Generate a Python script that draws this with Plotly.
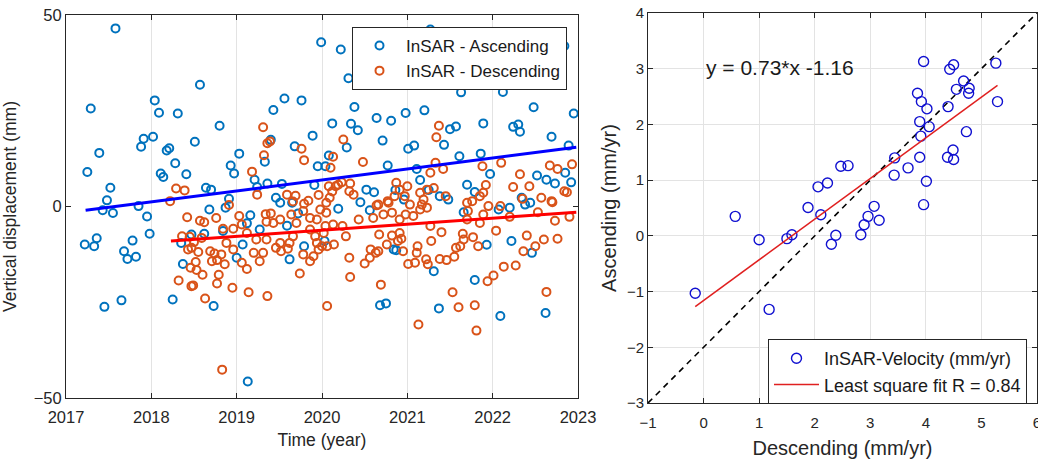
import plotly.graph_objects as go

# ---------------- Left panel data: vertical displacement time series ----------------
asc_t = [2017.25, 2017.29, 2017.39, 2017.52, 2017.48, 2017.43, 2017.55, 2017.58, 2017.85, 2017.95,
         2017.22, 2017.33, 2017.36, 2017.45, 2017.65, 2017.68, 2017.72, 2017.78, 2017.82, 2017.98,
         2017.91, 2017.88, 2018.02, 2018.04, 2018.09, 2018.11, 2018.14, 2018.18, 2018.21, 2018.28,
         2018.31, 2018.41, 2018.51, 2018.57, 2018.64, 2018.70, 2018.68, 2018.80, 2018.87, 2018.91,
         2018.93, 2018.97, 2019.03, 2018.25, 2018.37, 2018.35, 2018.47, 2018.62, 2018.73, 2018.84,
         2019.00, 2019.07, 2019.12, 2019.16, 2019.13, 2019.21, 2019.24, 2019.27, 2019.33, 2019.36,
         2019.40, 2019.43, 2019.46, 2019.51, 2019.53, 2019.56, 2019.59, 2019.62, 2019.65, 2019.68,
         2019.72, 2019.76, 2019.79, 2019.89, 2019.91, 2019.95, 2019.99, 2020.03, 2020.04, 2020.08,
         2020.12, 2020.19, 2020.22, 2020.29, 2020.31, 2020.34, 2020.38, 2020.42, 2020.45, 2020.52,
         2020.56, 2020.61, 2020.64, 2020.68, 2020.71, 2020.75, 2020.77, 2020.81, 2020.84, 2020.87,
         2020.86, 2020.96, 2020.98, 2021.01, 2021.08, 2021.11, 2021.15, 2021.20, 2021.25, 2021.27,
         2021.31, 2021.37, 2021.38, 2021.43, 2021.48, 2021.50, 2021.57, 2021.61, 2021.63, 2021.66,
         2021.70, 2021.79, 2021.79, 2021.86, 2021.89, 2021.93, 2021.97, 2022.03, 2022.07, 2022.09,
         2022.12, 2022.20, 2022.22, 2022.24, 2022.30, 2022.32, 2022.34, 2022.38, 2022.44, 2022.46,
         2022.48, 2022.52, 2022.62, 2022.63, 2022.69, 2022.73, 2022.84, 2022.85, 2022.89, 2022.92,
         2022.95]
asc_v = [9.0, 25.6, 14.0, 4.9, 1.6, -1.0, -1.7, 46.5, 0.1, -2.6,
         -9.9, -10.4, -8.3, -26.2, -24.5, -11.7, -13.7, -8.9, -13.1, -7.1,
         17.7, 15.6, 18.2, 27.7, 24.5, 8.6, 7.7, 14.6, 15.2, 11.3,
         24.3, 8.4, 16.9, 31.8, 4.9, 4.4, -0.8, 21.1, -0.3, 2.0,
         10.7, 8.6, 13.8, -24.3, -15.0, -9.5, -7.3, -7.1, -26.0, -6.4,
         -13.4, -9.9, -4.4, -2.3, -45.7, 7.0, 5.1, -6.0, 11.7, 6.0,
         17.4, 25.2, 2.3, 1.0, 5.9, 28.2, -5.0, -13.8, 1.0, 15.7,
         -1.8, 27.7, -10.4, 18.5, 5.6, 10.5, 42.9, -9.0, 10.5, 13.3,
         21.7, -0.6, 41.0, 15.4, 33.5, 21.6, 26.0, 19.9, 1.1, 4.4,
         -1.0, 3.7, 23.1, -25.8, 17.2, -25.3, 10.7, 22.4, -11.2, -11.4,
         4.3, 1.8, 24.4, 15.1, 15.9, 9.8, 6.9, 25.1, 4.3, 46.2,
         -16.9, -26.6, 2.7, 16.1, 1.8, 20.2, 20.9, 13.1, 29.8, -1.5,
         5.7, 3.8, -19.2, 13.8, 21.7, -10.0, 8.5, 31.9, -0.8, -28.6,
         29.9, -0.3, -9.0, 20.8, 21.4, 19.5, 2.3, 0.5, 1.0, -12.1,
         25.9, 8.1, -27.8, 7.0, 18.2, 6.0, 41.9, 8.8, 15.9, 6.3,
         24.3]

desc_t = [2019.31, 2019.36, 2019.39, 2019.76, 2019.32, 2019.79, 2019.18, 2019.24, 2018.29, 2018.39,
          2018.22, 2018.91, 2019.59, 2019.69, 2019.96, 2019.66, 2019.79, 2019.84, 2018.42, 2018.57,
          2018.62, 2018.76, 2019.03, 2019.34, 2019.40, 2019.35, 2019.86, 2020.70, 2021.37, 2021.34,
          2020.25, 2020.13, 2020.10, 2020.48, 2021.33, 2022.10, 2022.32, 2022.67, 2022.76, 2022.84,
          2022.87, 2022.93, 2020.08, 2020.16, 2020.23, 2020.33, 2020.87, 2021.00, 2021.31, 2021.92,
          2021.42, 2021.88, 2022.43, 2022.24, 2022.57, 2022.35, 2022.69, 2021.89, 2021.85, 2021.95,
          2021.70, 2021.76, 2021.45, 2021.23, 2021.27, 2020.91, 2020.85, 2020.77, 2020.64, 2020.37,
          2020.32, 2020.19, 2020.12, 2020.09, 2020.05, 2021.15, 2021.19, 2021.03, 2020.97, 2018.36,
          2018.45, 2018.50, 2018.59, 2018.43, 2018.47, 2018.55, 2018.69, 2018.74, 2018.82, 2018.71,
          2018.77, 2018.52, 2018.46, 2018.53, 2018.60, 2018.79, 2018.86, 2018.32, 2018.47, 2018.49,
          2018.63, 2018.77, 2018.95, 2019.14, 2019.36, 2018.84, 2018.96, 2019.06, 2018.88, 2018.96,
          2019.12, 2019.23, 2019.31, 2019.20, 2019.06, 2019.12, 2019.27, 2019.35, 2019.43, 2019.51,
          2019.64, 2019.70, 2019.78, 2019.86, 2019.94, 2019.98, 2020.05, 2020.04, 2019.51, 2019.62,
          2019.66, 2019.46, 2019.52, 2019.60, 2019.78, 2019.90, 2019.96, 2019.94, 2019.92, 2019.74,
          2019.86, 2020.06, 2020.06, 2018.83, 2020.33, 2020.32, 2020.69, 2021.13, 2021.53, 2021.60,
          2021.79, 2021.81, 2021.94, 2022.01, 2022.13, 2022.27, 2022.63, 2022.36, 2022.50, 2022.60,
          2022.76, 2022.40, 2022.04, 2022.73, 2022.90, 2022.20, 2022.53, 2022.70, 2020.50, 2020.56,
          2020.63, 2020.57, 2020.66, 2020.76, 2020.67, 2020.82, 2020.91, 2020.93, 2020.95, 2021.01,
          2021.09, 2021.11, 2021.12, 2021.22, 2021.24, 2021.28, 2021.38, 2021.46, 2021.55, 2021.57,
          2021.62, 2021.66, 2021.65, 2021.77, 2021.83, 2021.40, 2020.14, 2020.28, 2020.24, 2020.13,
          2020.00, 2020.02, 2020.43, 2020.60, 2020.72, 2020.82, 2020.91, 2020.98, 2021.07, 2021.15,
          2021.27, 2021.23, 2020.66, 2020.78, 2021.17, 2021.70, 2021.85, 2021.71, 2021.89, 2022.09,
          2020.89]
desc_v = [20.7, 16.5, 17.0, 15.1, 13.4, 12.1, 9.1, 3.1, 4.7, 4.2,
          1.4, 0.4, 3.1, 2.8, 3.0, 1.3, 0.7, 1.5, -2.8, -3.7,
          -4.1, -3.0, -2.5, -2.0, -1.8, -4.0, -3.0, 33.5, 21.1, 18.1,
          17.5, 13.0, 10.1, 11.6, 11.4, 11.4, 8.4, 10.7, 9.8, 4.0,
          3.7, 11.0, 5.3, 5.3, 6.3, 6.0, 6.2, 5.3, 4.8, 5.6,
          9.8, 10.5, 5.3, 5.1, 2.3, 2.0, 1.4, 3.6, 2.7, 0.1,
          1.0, 1.4, 2.7, 4.4, 8.8, 4.4, 2.7, 1.4, 0.3, 3.1,
          4.0, 5.7, 3.9, 2.3, 1.0, 3.6, 1.8, 0.5, 2.7, -7.8,
          -7.9, -9.3, -8.2, -11.2, -10.8, -11.9, -11.7, -12.3, -12.5, -14.3,
          -14.0, -14.5, -16.0, -16.6, -17.8, -17.8, -15.1, -19.3, -20.8, -20.6,
          -24.0, -20.1, -21.2, -22.4, -23.4, -5.8, -5.8, -4.7, -9.5, -11.2,
          -6.9, -8.6, -12.1, -12.1, -14.7, -16.3, -14.3, -8.6, -4.3, -3.4,
          -2.1, -4.3, -1.2, -6.0, -3.4, -0.8, -1.6, -5.1, -9.5, -9.5,
          -7.8, -10.8, -11.7, -11.0, -12.5, -13.0, -11.2, -9.5, -7.8, -17.5,
          -14.3, -10.4, -26.0, -42.6, -18.4, -13.4, -20.4, -30.8, -22.4, -26.3,
          -25.8, -32.4, -19.5, -18.0, -15.7, -15.4, -22.3, -11.7, -10.4, -8.6,
          -8.4, -7.6, -6.3, -3.7, -2.7, -2.7, -1.5, 1.1, -14.9, -13.4,
          -12.1, -11.2, -11.7, -9.9, -7.3, -7.6, -6.9, -8.4, -11.7, -15.0,
          -14.7, -12.1, -10.4, -13.8, -15.1, -9.0, -13.7, -14.0, -13.1, -10.8,
          -10.4, -8.6, -7.1, -8.0, -10.4, -6.7, -9.9, -7.8, -5.1, -4.7,
          -10.4, -6.9, -3.4, -3.0, -2.1, -1.6, -3.4, -2.1, -2.5, -0.8,
          -5.1, -0.3, 0.5, 1.0, 0.5, -3.4, -4.3, -1.2, -2.1, 0.1,
          -9.0]

# trend lines (start/end of each fitted line)
asc_trend_t = [2017.23, 2022.98]
asc_trend_v = [-1.0, 15.5]
desc_trend_t = [2018.23, 2022.98]
desc_trend_v = [-9.0, -1.5]

year_ticks = [2017, 2018, 2019, 2020, 2021, 2022, 2023]
disp_ticks = [-50, 0, 50]

# ---------------- Right panel data: velocity comparison ----------------
vel_desc = [-0.15, 0.57, 1.00, 1.18, 1.50, 1.59, 1.88, 2.06, 2.11, 2.23,
            2.30, 2.38, 2.47, 2.60, 2.83, 2.89, 2.96, 3.07, 3.16, 3.43,
            3.44, 3.68, 3.85, 3.89, 3.89, 3.91, 3.92, 3.96, 3.96, 4.01,
            4.02, 4.06, 4.39, 4.40, 4.43, 4.49, 4.50, 4.50, 4.55, 4.68,
            4.73, 4.77, 4.78, 5.26, 5.29]
vel_asc = [-1.03, 0.35, -0.07, -1.32, -0.05, 0.02, 0.51, 0.88, 0.38, 0.95,
           -0.15, 0.01, 1.25, 1.26, 0.02, 0.20, 0.35, 0.53, 0.28, 1.09,
           1.40, 1.22, 2.56, 1.41, 2.05, 1.79, 2.41, 3.13, 0.56, 0.98,
           2.28, 1.96, 1.41, 2.32, 2.99, 1.54, 1.37, 3.07, 2.63, 2.78,
           1.87, 2.56, 2.65, 3.10, 2.41]
fit_slope = 0.73
fit_intercept = -1.16
fit_r = 0.84
ref_line_x = [-1, 6]
ref_line_offset = -2
vel_x_ticks = [-1, 0, 1, 2, 3, 4, 5, 6]
vel_y_ticks = [-3, -2, -1, 0, 1, 2, 3, 4]

BLUE = "#0072BD"
ORANGE = "#D95319"
AXC = "#262626"
GRID = "#e3e3e3"
FONT = "Liberation Sans, Arial, sans-serif"

fig = go.Figure()

fig.add_trace(go.Scatter(x=asc_t, y=asc_v, mode="markers", name="InSAR - Ascending",
                         marker=dict(symbol="circle-open", size=8, color=BLUE, line=dict(width=2, color=BLUE)),
                         xaxis="x", yaxis="y", legend="legend"))
fig.add_trace(go.Scatter(x=desc_t, y=desc_v, mode="markers", name="InSAR - Descending",
                         marker=dict(symbol="circle-open", size=8, color=ORANGE, line=dict(width=2, color=ORANGE)),
                         xaxis="x", yaxis="y", legend="legend"))
fig.add_trace(go.Scatter(x=asc_trend_t, y=asc_trend_v, mode="lines", showlegend=False,
                         line=dict(color="#0000FF", width=3), xaxis="x", yaxis="y"))
fig.add_trace(go.Scatter(x=desc_trend_t, y=desc_trend_v, mode="lines", showlegend=False,
                         line=dict(color="#FF0000", width=3), xaxis="x", yaxis="y"))

# right panel
fit_x = [min(vel_desc), max(vel_desc)]
fit_y = [fit_slope * v + fit_intercept for v in fit_x]
ref_y = [v + ref_line_offset for v in ref_line_x]

fig.add_trace(go.Scatter(x=ref_line_x, y=ref_y, mode="lines", showlegend=False,
                         line=dict(color="black", width=1.6, dash="6px,5px"), xaxis="x2", yaxis="y2"))
fig.add_trace(go.Scatter(x=vel_desc, y=vel_asc, mode="markers", name="InSAR-Velocity (mm/yr)",
                         marker=dict(symbol="circle-open", size=10, color="#1010D0", line=dict(width=1.4, color="#1010D0")),
                         xaxis="x2", yaxis="y2", legend="legend2"))
fig.add_trace(go.Scatter(x=fit_x, y=fit_y, mode="lines", name=f"Least square fit R = {fit_r}",
                         line=dict(color="#E02020", width=1.5), xaxis="x2", yaxis="y2", legend="legend2"))

W, H = 1038, 459

def px(xp):
    return xp / W

def py(yp):
    return 1 - yp / H

axis_common = dict(showline=True, linecolor=AXC, linewidth=1, mirror="ticks", ticks="inside",
                   ticklen=5, tickcolor=AXC, zeroline=False, color=AXC, automargin=False)

fig.update_layout(
    template="none",
    width=W, height=H,
    margin=dict(l=0, r=0, t=0, b=0),
    paper_bgcolor="white", plot_bgcolor="white",
    font=dict(family=FONT, color=AXC),
    xaxis=dict(domain=[px(66), px(578)], range=[2017, 2023], tickvals=year_ticks,
               showgrid=True, gridcolor=GRID, gridwidth=1,
               tickfont=dict(size=16.5), anchor="y", ticklabelstandoff=4,
               title=dict(text="Time (year)", font=dict(size=17.5), standoff=8),
               **axis_common),
    yaxis=dict(domain=[py(398), py(15)], range=[-50, 50], tickvals=disp_ticks,
               showgrid=False, tickfont=dict(size=16.5), anchor="x",
               title=dict(text="Vertical displacement (mm)", font=dict(size=17.5), standoff=18),
               **axis_common),
    xaxis2=dict(domain=[px(648), 0.999], range=[-1, 6], tickvals=vel_x_ticks,
                showgrid=True, gridcolor=GRID, gridwidth=1, tickfont=dict(size=15),
                ticklabeloverflow="allow", anchor="y2", ticklabelstandoff=6,
                title=dict(text="Descending (mm/yr)", font=dict(size=20), standoff=10),
                **axis_common),
    yaxis2=dict(domain=[py(403), py(13)], range=[-3, 4], tickvals=vel_y_ticks,
                showgrid=True, gridcolor=GRID, gridwidth=1, tickfont=dict(size=15), anchor="x2",
                title=dict(text="Ascending (mm/yr)", font=dict(size=20), standoff=4),
                **axis_common),
    legend=dict(x=px(567), xanchor="right", y=py(27), yanchor="top",
                bgcolor="white", bordercolor="#262626", borderwidth=1,
                font=dict(size=17, color="#1a1a1a"), tracegroupgap=0, itemwidth=43),
    legend2=dict(x=px(1027), xanchor="right", y=py(339), yanchor="top",
                 bgcolor="white", bordercolor="#262626", borderwidth=1,
                 font=dict(size=18, color="#1a1a1a"), tracegroupgap=0, itemwidth=45),
    annotations=[dict(x=0, y=3.03, xref="x2", yref="y2", xanchor="left", yanchor="middle",
                      text=f"y = {fit_slope}*x {fit_intercept}", showarrow=False,
                      font=dict(size=21, color="#1a1a1a"))],
    showlegend=True,
)

fig.write_html("out.html", config={"displayModeBar": False},
               post_script="document.body.style.margin='0';")
